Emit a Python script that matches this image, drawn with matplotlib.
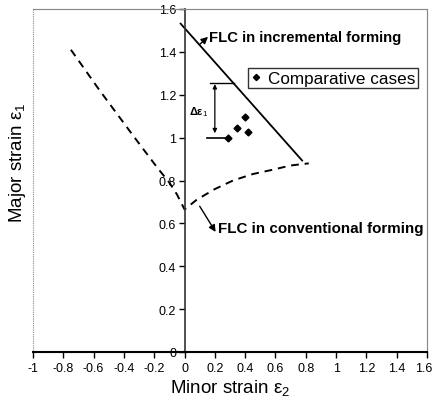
import matplotlib
matplotlib.use("Agg")
import matplotlib.pyplot as plt
from matplotlib.patches import Rectangle
from matplotlib.transforms import ScaledTranslation

plt.rcParams['font.family'] = ['Liberation Sans', 'DejaVu Sans']
plt.rcParams['mathtext.fontset'] = 'custom'
plt.rcParams['mathtext.rm'] = 'Liberation Sans'
plt.rcParams['mathtext.it'] = 'Liberation Sans'
plt.rcParams['axes.unicode_minus'] = False

# FLC in incremental forming (solid straight line)
inc_x = [-0.03, 0.78]
inc_y = [1.535, 0.89]

# FLC in conventional forming (dashed curve)
conv_x = [-0.75, -0.56, -0.34, -0.18, -0.10, -0.05, 0.0, 0.08, 0.20, 0.32, 0.45, 0.58, 0.70, 0.82]
conv_y = [1.41, 1.22, 1.01, 0.86, 0.79, 0.735, 0.665, 0.71, 0.76, 0.80, 0.83, 0.85, 0.87, 0.88]

# Comparative cases
case_x = [0.29, 0.345, 0.40, 0.42]
case_y = [1.00, 1.045, 1.097, 1.027]

xticks = [-1, -0.8, -0.6, -0.4, -0.2, 0, 0.2, 0.4, 0.6, 0.8, 1, 1.2, 1.4, 1.6]
xticklabels = ['-1', '-0.8', '-0.6', '-0.4', '-0.2', '0', '0.2', '0.4', '0.6', '0.8', '1', '1.2', '1.4', '1.6']
yticks = [0, 0.2, 0.4, 0.6, 0.8, 1, 1.2, 1.4, 1.6]
yticklabels = ['0', '0.2', '0.4', '0.6', '0.8', '1', '1.2', '1.4', '1.6']

fig = plt.figure(figsize=(4.34, 4.06), dpi=100)
ax = fig.add_axes([33/434, 53/406, 394/434, 343/406])
ax.set_xlim(-1, 1.6)
ax.set_ylim(0, 1.6)

# frame (dotted plot-area border)
for s in ['top', 'right']:
    ax.spines[s].set_linestyle((0, (1, 1)))
    ax.spines[s].set_color('#888888')
    ax.spines[s].set_linewidth(0.8)
ax.add_patch(Rectangle((0, 0), 1, 1, transform=ax.transAxes, fill=False,
                       ls=(0, (1, 1)), ec='#888888', lw=0.8, clip_on=False, zorder=0))
ax.spines['left'].set_position(('data', 0))
ax.spines['left'].set_color('#333333')
ax.spines['left'].set_linewidth(1.2)
ax.spines['bottom'].set_color('black')
ax.spines['bottom'].set_linewidth(1.5)

ax.set_xticks(xticks)
ax.set_xticklabels(xticklabels)
ax.set_yticks(yticks)
ax.set_yticklabels(yticklabels)
ax.tick_params(axis='both', labelsize=9, direction='out', length=4, width=1, colors='black')
ax.tick_params(axis='y', pad=2)
last = ax.get_xticklabels()[-1]
last.set_transform(last.get_transform() + ScaledTranslation(-3/100, 0, fig.dpi_scale_trans))

ax.plot(inc_x, inc_y, color='black', lw=1.3, solid_capstyle='butt')
ax.plot(conv_x, conv_y, color='black', lw=1.4, ls=(0, (4, 3)))
ax.plot(case_x, case_y, ls='none', marker='D', ms=3.5, color='black', label='Comparative cases')

# Delta annotation
ax.plot([0.15, case_x[0]], [1.0, 1.0], color='black', lw=1.2)
ax.plot([0.17, 0.325], [1.257, 1.257], color='black', lw=1.0)
ax.annotate('', xy=(0.20, 1.25), xytext=(0.20, 1.02),
            arrowprops=dict(arrowstyle='<|-|>,head_length=0.25,head_width=0.12', color='black', lw=0.9,
                            shrinkA=0, shrinkB=0))
ax.text(0.095, 1.122, 'Δε$_1$', fontsize=8, fontweight='bold', ha='center', va='center')

# FLC annotations
ax.annotate('', xy=(0.155, 1.47), xytext=(0.10, 1.435),
            arrowprops=dict(arrowstyle='-|>,head_length=0.4,head_width=0.2', color='black', lw=1.0,
                            shrinkA=0, shrinkB=0))
ax.text(0.162, 1.47, 'FLC in incremental forming', fontsize=10.7, fontweight='bold',
        ha='left', va='center')
ax.annotate('', xy=(0.205, 0.56), xytext=(0.10, 0.68),
            arrowprops=dict(arrowstyle='-|>,head_length=0.4,head_width=0.2', color='black', lw=1.0,
                            shrinkA=0, shrinkB=0))
ax.text(0.222, 0.58, 'FLC in conventional forming', fontsize=10.9, fontweight='bold',
        ha='left', va='center')

leg = ax.legend(loc='upper left', bbox_to_anchor=(0.546, 0.828), fontsize=12.3,
                frameon=True, fancybox=False, edgecolor='black', handlelength=0.6,
                handletextpad=0.4, borderpad=0.15, borderaxespad=0, markerscale=0.9)
leg.get_frame().set_linewidth(1.0)

ax.set_xlabel('Minor strain ε$_2$', fontsize=13.5, labelpad=2)
ax.set_ylabel('Major strain ε$_1$', fontsize=13.5, va='center')
ax.yaxis.set_label_coords(-0.04, 0.554)

fig.savefig('out.png', dpi=100)
